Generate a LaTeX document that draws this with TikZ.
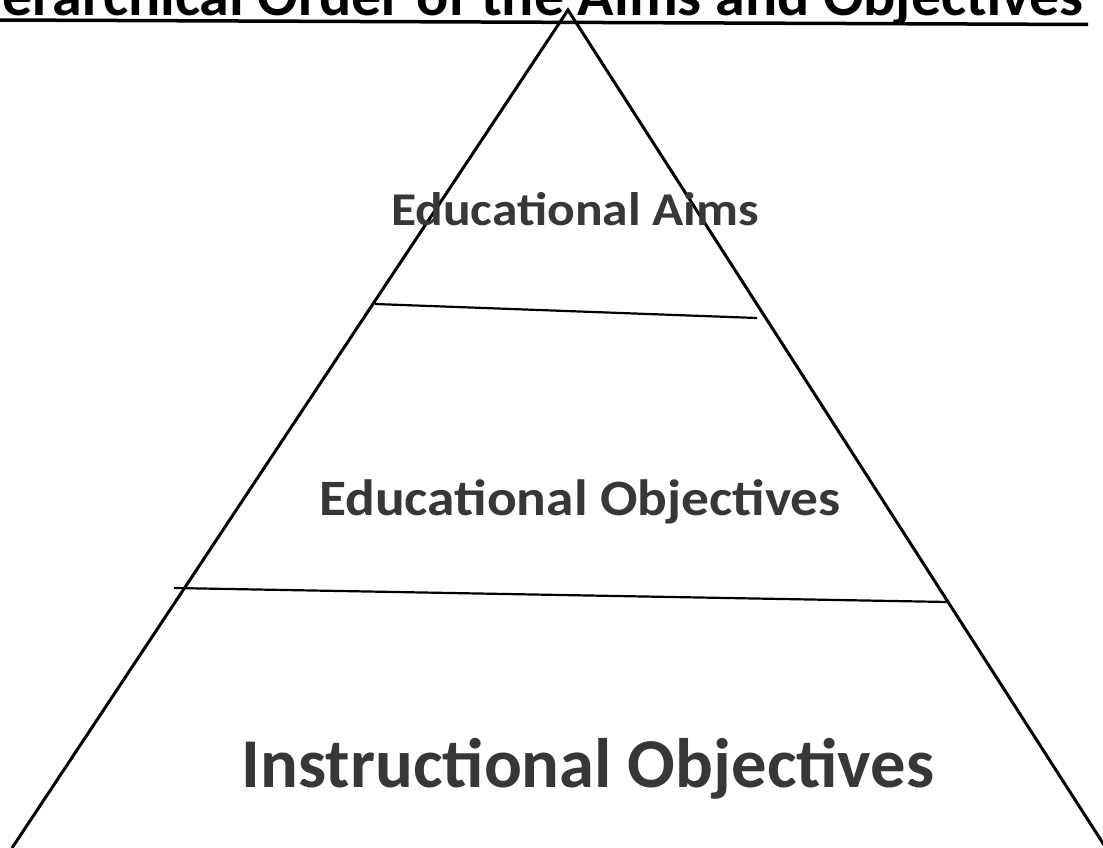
\documentclass[tikz,border=0pt]{standalone}
\usepackage{fontspec}
\setmainfont{Carlito}
\definecolor{txtgray}{RGB}{55,55,55}
\tikzset{
  edge/.style={line width=3pt, black, line join=miter},
  divider/.style={line width=2.2pt, black},
  level/.style={anchor=base, inner sep=0pt, text=txtgray, font=\bfseries},
  titletext/.style={anchor=base east, inner sep=0pt, text=black, font=\bfseries}
}
\begin{document}
\begin{tikzpicture}[x=1pt,y=-1pt]
\useasboundingbox (0,0) rectangle (1103,848);
\clip (0,0) rectangle (1103,848);
\fill[white] (0,0) rectangle (1103,848);
% title
\node[titletext] (title) at (1084,15.5) {\scalebox{1.035}[1]{\fontsize{58}{60}\selectfont Hierarchical Order of the Aims and Objectives}};
\coordinate (ulA) at (-5,20);
\coordinate (ulB) at (1088,24.5);
\draw[line width=3.5pt] (ulA) -- (ulB);
% triangle
\coordinate (apex) at (568,10);
\coordinate (bl) at (12,848);
\coordinate (br) at (1106,848);
\draw[edge] (bl) -- (apex) -- (br);
% dividers
\coordinate (d1a) at (375,304);
\coordinate (d1b) at (757,318);
\coordinate (d2a) at (174,588);
\coordinate (d2b) at (948,602);
\draw[divider] (d1a) -- (d1b);
\draw[divider] (d2a) -- (d2b);
% labels
\node[level] (aims) at (575,225) {\scalebox{1.097}[1]{\fontsize{47}{50}\selectfont Educational Aims}};
\node[level] (eobj) at (580,515) {\scalebox{1.087}[1]{\fontsize{51}{54}\selectfont Educational Objectives}};
\node[level] (iobj) at (588,787) {\scalebox{1.008}[1]{\fontsize{70}{74}\selectfont Instructional Objectives}};
\end{tikzpicture}
\end{document}
